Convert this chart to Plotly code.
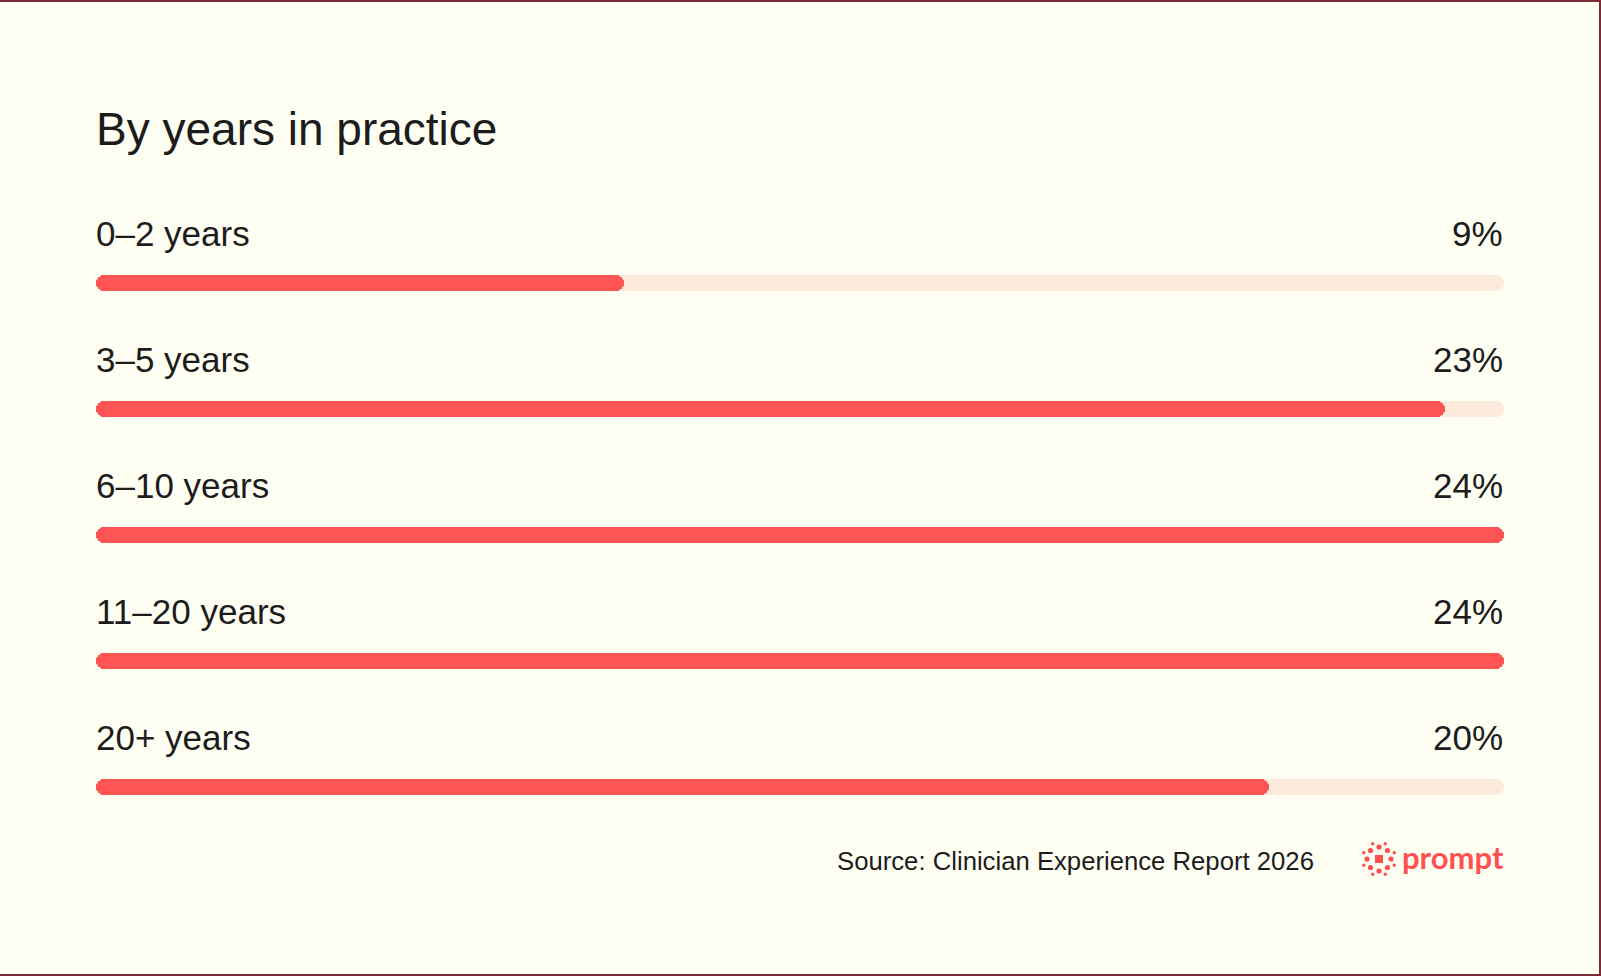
import math
import plotly.graph_objects as go

# data
categories = ["0–2 years", "3–5 years", "6–10 years", "11–20 years", "20+ years"]
shares = [9, 23, 24, 24, 20]
share_labels = ["9%", "23%", "24%", "24%", "20%"]

W, H = 1601, 976
BG = "#fffef3"
RED = "#ff5454"
TRACK = "#fcebdd"
INK = "#1c1c1c"
FONT = "Liberation Sans"
BAR_W = 16 / 126

top = max(shares)

fig = go.Figure()


def pill(values, color, hover):
    # a bar with both ends rounded: two halves growing out from the middle,
    # plus a square-cornered middle piece to hide the seam
    mids = [v / 2 for v in values]
    common = dict(y=categories, orientation="h", width=BAR_W, showlegend=False)
    hov = dict(hovertemplate="%{y}: " + "%{customdata}%<extra></extra>",
               customdata=values) if hover else dict(hoverinfo="skip")
    fig.add_trace(go.Bar(x=[v / 2 for v in values], base=mids,
                         marker=dict(color=color, cornerradius=8, line=dict(width=0)),
                         **common, **hov))
    fig.add_trace(go.Bar(x=[-v / 2 for v in values], base=mids,
                         marker=dict(color=color, cornerradius=8, line=dict(width=0)),
                         **common, **hov))
    fig.add_trace(go.Bar(x=[v / 2 for v in values], base=[v / 4 for v in values],
                         marker=dict(color=color, line=dict(width=0)),
                         **common, **hov))


pill([top] * len(categories), TRACK, False)
pill(shares, RED, True)

annotations = []
for cat, lab in zip(categories, share_labels):
    annotations.append(dict(
        x=0, y=cat, xref="x", yref="y", text=cat, showarrow=False,
        xanchor="left", yanchor="middle", yshift=50, xshift=-2,
        font=dict(family=FONT, size=35, color=INK),
    ))
    annotations.append(dict(
        x=top, y=cat, xref="x", yref="y", text=lab, showarrow=False,
        xanchor="right", yanchor="middle", yshift=50, xshift=1,
        font=dict(family=FONT, size=35, color=INK),
    ))

# title
annotations.append(dict(
    x=94 / W, y=1 - 129 / H, xref="paper", yref="paper",
    text="By years in practice", showarrow=False,
    xanchor="left", yanchor="middle",
    font=dict(family=FONT, size=46, color=INK),
))

# source + logo word
annotations.append(dict(
    x=1316 / W, y=1 - 861 / H, xref="paper", yref="paper",
    text="Source: Clinician Experience Report 2026", showarrow=False,
    xanchor="right", yanchor="middle",
    font=dict(family=FONT, size=25.7, color=INK),
))
annotations.append(dict(
    x=1400 / W, y=1 - 857 / H, xref="paper", yref="paper",
    text="<b>prompt</b>", showarrow=False,
    xanchor="left", yanchor="middle",
    font=dict(family="Lato, sans-serif", size=31, color="#ff5050"),
))

shapes = []
# logo icon: square with two rings of dots
cx, cy = 1379, 859
shapes.append(dict(type="rect", xref="paper", yref="paper",
                   x0=(cx - 4) / W, x1=(cx + 4) / W,
                   y0=1 - (cy + 4) / H, y1=1 - (cy - 4) / H,
                   fillcolor="#ff5050", line=dict(width=0)))
for k in range(8):
    for rad, r, off in ((12, 2.6, 0.0), (16.5, 1.7, math.pi / 8)):
        a = k * math.pi / 4 + off
        px, py = cx + rad * math.cos(a), cy + rad * math.sin(a)
        shapes.append(dict(type="circle", xref="paper", yref="paper",
                           x0=(px - r) / W, x1=(px + r) / W,
                           y0=1 - (py + r) / H, y1=1 - (py - r) / H,
                           fillcolor="#ff5050", line=dict(width=0)))

# frame border: top, right and bottom edges only
for x0, y0, x1, y1 in ((0, 1, 1, 1), (1, 1, 1, 0), (0, 0, 1, 0)):
    shapes.append(dict(type="line", xref="paper", yref="paper",
                       x0=x0, y0=y0, x1=x1, y1=y1,
                       line=dict(color="#7d2a36", width=4), layer="above"))

fig.update_layout(
    width=W, height=H,
    margin=dict(l=0, r=0, t=0, b=0),
    paper_bgcolor=BG, plot_bgcolor=BG,
    barmode="overlay", bargap=0,
    xaxis=dict(range=[0, top], domain=[96 / W, 1504 / W], visible=False, fixedrange=True),
    yaxis=dict(type="category", categoryorder="array", categoryarray=categories,
               range=[(H - 283) / 126, -283 / 126], visible=False, fixedrange=True),
    annotations=annotations,
    shapes=shapes,
    showlegend=False,
    hovermode="closest",
)

fig.write_html("out.html", config={"displayModeBar": False},
               post_script="document.body.style.margin='0';document.body.style.overflow='hidden';")
